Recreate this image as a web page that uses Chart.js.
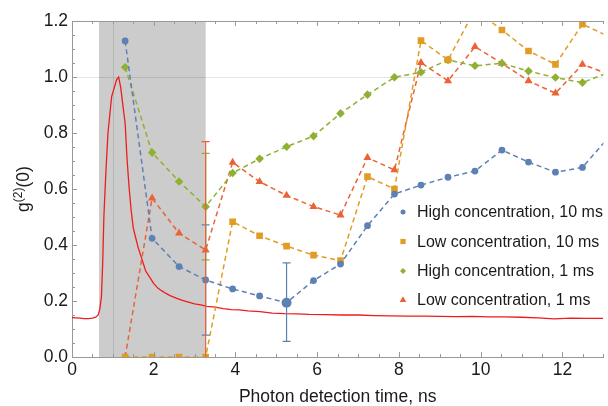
<!DOCTYPE html>
<html>
<head>
<meta charset="utf-8">
<script src="https://cdn.jsdelivr.net/npm/chart.js@4.4.1/dist/chart.umd.min.js"></script>
<style>
    html, body { margin: 0; padding: 0; background: #fff; }
    canvas { display: block; }
</style>
</head>
<body>
<canvas id="g2Chart" width="608" height="406"></canvas>
<script>
// measured points (ns)
const times = [1.30, 1.96, 2.62, 3.27, 3.93, 4.59, 5.25, 5.91, 6.57, 7.23, 7.89, 8.54, 9.20, 9.86, 10.52, 11.17, 11.83, 12.49, 13.15];

const highConc10 = [1.129, 0.424, 0.323, 0.275, 0.243, 0.218, 0.194, 0.273, 0.332, 0.469, 0.582, 0.614, 0.642, 0.664, 0.739, 0.696, 0.660, 0.677, 0.788];
const lowConc10  = [0, 0, 0, 0, 0.483, 0.433, 0.396, 0.364, 0.344, 0.644, 0.600, 1.130, 1.061, 1.240, 1.168, 1.093, 1.045, 1.189, 1.143];
const highConc1  = [1.035, 0.730, 0.627, 0.537, 0.657, 0.708, 0.751, 0.789, 0.870, 0.937, 0.999, 1.017, 1.061, 1.040, 1.049, 1.021, 0.998, 0.980, 1.017];
const lowConc1   = [0, 0.567, 0.442, 0.382, 0.695, 0.626, 0.577, 0.537, 0.507, 0.712, 0.668, 1.051, 0.986, 1.108, 1.049, 0.986, 0.942, 1.045, 1.009];

const seriesNames = ['High concentration, 10 ms', 'Low concentration, 10 ms', 'High concentration, 1 ms', 'Low concentration, 1 ms'];

// detector trace (red curve)
const curveTimes  = [0, 0.1, 0.2, 0.3, 0.4, 0.5, 0.58, 0.64, 0.68, 0.72, 0.75, 0.78, 0.81, 0.84, 0.88, 0.92, 0.97, 1.03, 1.09, 1.14, 1.19, 1.24, 1.30, 1.35, 1.40, 1.45, 1.50, 1.56, 1.62, 1.70, 1.80, 1.90, 2.00, 2.10, 2.20, 2.30, 2.40, 2.55, 2.70, 2.85, 3.00, 3.15, 3.30, 3.50, 3.70, 3.90, 4.10, 4.30, 4.60, 4.90, 5.20, 5.50, 5.80, 6.20, 6.60, 7.00, 7.40, 7.80, 8.20, 8.60, 9.00, 9.40, 9.80, 10.20, 10.60, 11.00, 11.40, 11.80, 12.20, 12.60, 13.00];
const curveValues = [0.141, 0.140, 0.139, 0.137, 0.137, 0.139, 0.142, 0.150, 0.170, 0.215, 0.330, 0.500, 0.600, 0.690, 0.800, 0.858, 0.930, 0.960, 0.990, 1.000, 0.965, 0.905, 0.835, 0.700, 0.600, 0.520, 0.460, 0.425, 0.390, 0.355, 0.308, 0.285, 0.262, 0.246, 0.236, 0.227, 0.219, 0.210, 0.202, 0.196, 0.190, 0.186, 0.181, 0.178, 0.173, 0.169, 0.168, 0.165, 0.162, 0.157, 0.155, 0.154, 0.152, 0.151, 0.150, 0.150, 0.148, 0.147, 0.146, 0.146, 0.145, 0.144, 0.145, 0.143, 0.143, 0.142, 0.140, 0.136, 0.139, 0.138, 0.138];

// error bars
const errTimes   = [3.27, 3.27, 3.27, 5.25];
const errCenters = [0.275, 0.537, 0.382, 0.196];
const errSizes   = [0.197, 0.190, 0.387, 0.140];
const errSeries  = [0, 2, 3, 0];

const xTicks = [0, 2, 4, 6, 8, 10, 12];
const yTicks = [0, 0.2, 0.4, 0.6, 0.8, 1.0, 1.2];
const shadeRange = [0.66, 3.27];
const gridAt = { x: 1, y: 1 };

const colors = ['#5e81b5', '#e19c24', '#8fb032', '#eb6235'];
const styles = ['circle', 'rect', 'rectRot', 'triangle'];
const radii = [3.4, 4.7, 4.3, 4.7];
const FONT = "'Liberation Sans', Arial, sans-serif";

function seriesDataset(i, values) {
    return {
        label: seriesNames[i],
        data: times.map((t, k) => ({ x: t, y: values[k] })),
        showLine: true,
        borderColor: colors[i],
        backgroundColor: colors[i],
        borderWidth: 1.5,
        borderDash: [5, 3.5],
        pointStyle: styles[i],
        pointRadius: i === 0 ? (ctx => ctx.dataIndex === 6 ? 5 : radii[0]) : radii[i],
        pointBorderWidth: 0,
        pointBackgroundColor: colors[i],
        tension: 0
    };
}

const backdrop = {
    id: 'backdrop',
    beforeDatasetsDraw(chart) {
        const { ctx, chartArea: a, scales: { x, y } } = chart;
        ctx.save();
        ctx.fillStyle = '#cccccc';
        const x0 = x.getPixelForValue(shadeRange[0]);
        const x1 = x.getPixelForValue(shadeRange[1]);
        ctx.fillRect(x0, a.top, x1 - x0, a.bottom - a.top);
        ctx.strokeStyle = 'rgba(0,0,0,0.1)';
        ctx.lineWidth = 1;
        ctx.beginPath();
        const gx = Math.round(x.getPixelForValue(gridAt.x)) + 0.5;
        const gy = Math.round(y.getPixelForValue(gridAt.y)) + 0.5;
        ctx.moveTo(gx, a.top); ctx.lineTo(gx, a.bottom);
        ctx.moveTo(a.left, gy); ctx.lineTo(a.right, gy);
        ctx.stroke();
        ctx.restore();
    }
};

const extras = {
    id: 'extras',
    afterDatasetsDraw(chart) {
        const { ctx, chartArea: a, scales: { x, y } } = chart;
        ctx.save();

        // error bars, orange one last so it sits on top
        const order = [0, 1, 3, 2];
        order.forEach(k => {
            const px = x.getPixelForValue(errTimes[k]);
            const top = y.getPixelForValue(errCenters[k] + errSizes[k]);
            const bot = y.getPixelForValue(errCenters[k] - errSizes[k]);
            ctx.strokeStyle = colors[errSeries[k]];
            ctx.lineWidth = 1.2;
            ctx.beginPath();
            ctx.moveTo(px, top); ctx.lineTo(px, Math.min(bot, a.bottom));
            ctx.moveTo(px - 4, top); ctx.lineTo(px + 4, top);
            if (bot <= a.bottom) { ctx.moveTo(px - 4, bot); ctx.lineTo(px + 4, bot); }
            ctx.stroke();
        });

        // frame: top line and inward ticks
        ctx.strokeStyle = '#999999';
        ctx.lineWidth = 1;
        ctx.beginPath();
        ctx.moveTo(a.left, a.top + 0.5); ctx.lineTo(a.right, a.top + 0.5);
        for (let v = 0; v <= 13; v += 0.5) {
            const px = Math.round(x.getPixelForValue(v)) + 0.5;
            const len = v % 2 === 0 ? 5 : 3;
            ctx.moveTo(px, a.bottom); ctx.lineTo(px, a.bottom - len);
            ctx.moveTo(px, a.top); ctx.lineTo(px, a.top + len);
        }
        for (let k = 0; k <= 24; k++) {
            const py = Math.round(y.getPixelForValue(k * 0.05)) + 0.5;
            const len = k % 4 === 0 ? 5 : 3;
            ctx.moveTo(a.left, py); ctx.lineTo(a.left + len, py);
        }
        ctx.stroke();

        // legend
        const rows = [212, 241.5, 271, 300];
        ctx.font = '16px ' + FONT;
        ctx.textBaseline = 'middle';
        seriesNames.forEach((name, i) => {
            ctx.fillStyle = colors[i];
            ctx.strokeStyle = colors[i];
            Chart.helpers.drawPoint(ctx, { pointStyle: styles[i], radius: [2.5, 3.7, 3, 3.8][i], borderWidth: 0 }, 403, rows[i]);
            ctx.fillStyle = '#1a1a1a';
            ctx.fillText(name, 417, rows[i] + 1);
        });

        // axis titles
        ctx.fillStyle = '#1a1a1a';
        ctx.font = '17.5px ' + FONT;
        ctx.textAlign = 'center';
        ctx.textBaseline = 'alphabetic';
        ctx.fillText('Photon detection time, ns', (a.left + a.right) / 2, 402);

        ctx.translate(29, (a.top + a.bottom) / 2);
        ctx.rotate(-Math.PI / 2);
        const big = '17.5px ' + FONT, small = '12px ' + FONT;
        ctx.font = big; const w1 = ctx.measureText('g').width, w3 = ctx.measureText('(0)').width;
        ctx.font = small; const w2 = ctx.measureText('(2)').width;
        let cx = -(w1 + w2 + w3) / 2;
        ctx.textAlign = 'left';
        ctx.font = big; ctx.fillText('g', cx, 0); cx += w1;
        ctx.font = small; ctx.fillText('(2)', cx, -7); cx += w2;
        ctx.font = big; ctx.fillText('(0)', cx, 0);

        ctx.restore();
    }
};

new Chart(document.getElementById('g2Chart'), {
    type: 'scatter',
    data: {
        datasets: [
            seriesDataset(0, highConc10),
            seriesDataset(1, lowConc10),
            seriesDataset(2, highConc1),
            seriesDataset(3, lowConc1),
            {
                label: 'trace',
                data: curveTimes.map((t, k) => ({ x: t, y: curveValues[k] })),
                showLine: true,
                borderColor: '#ee1c1c',
                borderWidth: 1.3,
                pointRadius: 0,
                tension: 0
            }
        ]
    },
    options: {
        responsive: false,
        animation: false,
        devicePixelRatio: 1,
        layout: { padding: { top: 21, right: 0, left: 0, bottom: 0 } },
        plugins: { legend: { display: false }, tooltip: { enabled: false } },
        scales: {
            x: {
                type: 'linear', min: 0, max: 13,
                afterBuildTicks: s => { s.ticks = xTicks.map(v => ({ value: v })); },
                afterFit: s => { s.height = 49; },
                grid: { display: false, drawTicks: false },
                border: { display: true, color: '#999999', width: 1 },
                ticks: { padding: 3, color: '#1a1a1a', font: { family: FONT, size: 17.5 } }
            },
            y: {
                type: 'linear', min: 0, max: 1.2,
                afterBuildTicks: s => { s.ticks = yTicks.map(v => ({ value: v })); },
                afterFit: s => { s.width = 72; },
                grid: { display: false, drawTicks: false },
                border: { display: true, color: '#999999', width: 1 },
                ticks: { padding: 4, color: '#1a1a1a', font: { family: FONT, size: 17.5 }, callback: v => v.toFixed(1) }
            }
        }
    },
    plugins: [backdrop, extras]
});
</script>
</body>
</html>
